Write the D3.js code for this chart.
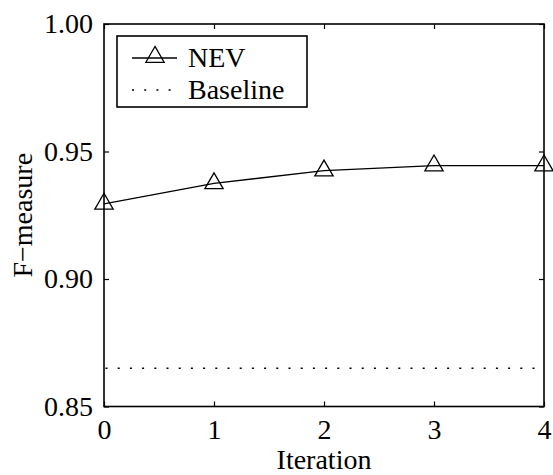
<!DOCTYPE html>
<html>
<head>
<meta charset="utf-8">
<script src="https://cdn.jsdelivr.net/npm/d3@7"></script>
<style>
  body { margin: 0; background: #fff; }
  text { font-family: "Liberation Serif", "Times New Roman", serif; fill: #000; }
</style>
</head>
<body>
<div id="chart"></div>
<script>
// Data
const iterations = [0, 1, 2, 3, 4];
const nevValues = [0.9295, 0.9375, 0.9425, 0.9445, 0.9445];
const baselineValue = 0.865;
const yTicks = [0.85, 0.90, 0.95, 1.00];
const seriesNames = ["NEV", "Baseline"];

const width = 553, height = 475;
const margin = { left: 104, right: 9, top: 24, bottom: 68.5 };

const svg = d3.select("#chart").append("svg")
  .attr("width", width)
  .attr("height", height);

const x = d3.scaleLinear().domain([0, 4]).range([margin.left, width - margin.right]);
const y = d3.scaleLinear().domain([0.85, 1.0]).range([height - margin.bottom, margin.top]);

const fontSize = 28;

// axes with inward ticks on all four sides
const tickLen = 5;
svg.append("g")
  .attr("transform", `translate(0,${y(0.85)})`)
  .call(d3.axisBottom(x).tickValues(iterations).tickSize(-tickLen).tickPadding(13).tickFormat(d3.format("d")))
  .call(g => g.select(".domain").remove())
  .call(g => g.selectAll("text").attr("font-size", fontSize).attr("dy", "0.71em"));
svg.append("g")
  .attr("transform", `translate(0,${y(1.0)})`)
  .call(d3.axisTop(x).tickValues(iterations).tickSize(-tickLen).tickFormat(""))
  .call(g => g.select(".domain").remove());
svg.append("g")
  .attr("transform", `translate(${x(0)},0)`)
  .call(d3.axisLeft(y).tickValues(yTicks).tickSize(-tickLen).tickPadding(11).tickFormat(d3.format(".2f")))
  .call(g => g.select(".domain").remove())
  .call(g => g.selectAll("text").attr("font-size", fontSize));
svg.append("g")
  .attr("transform", `translate(${x(4)},0)`)
  .call(d3.axisRight(y).tickValues(yTicks).tickSize(-tickLen).tickFormat(""))
  .call(g => g.select(".domain").remove());

svg.selectAll(".tick line").attr("stroke", "#000").attr("stroke-width", 1.2);

// frame
svg.append("rect")
  .attr("x", x(0)).attr("y", y(1.0))
  .attr("width", x(4) - x(0)).attr("height", y(0.85) - y(1.0))
  .attr("fill", "none").attr("stroke", "#000").attr("stroke-width", 1.6);

// baseline dotted line
svg.append("line")
  .attr("x1", x(0) + 1.5).attr("x2", x(4))
  .attr("y1", y(baselineValue)).attr("y2", y(baselineValue))
  .attr("stroke", "#000").attr("stroke-width", 1.5)
  .attr("stroke-dasharray", "2,10.2");

// NEV line
const line = d3.line().x((d, i) => x(iterations[i])).y(d => y(d));
svg.append("path")
  .datum(nevValues)
  .attr("d", line)
  .attr("fill", "none").attr("stroke", "#000").attr("stroke-width", 1.3);

const tri = d3.symbol().type(d3.symbolTriangle).size(145);
svg.selectAll(".marker")
  .data(nevValues)
  .enter().append("path")
  .attr("class", "marker")
  .attr("d", tri)
  .attr("transform", (d, i) => `translate(${x(iterations[i])},${y(d)})`)
  .attr("fill", "none").attr("stroke", "#000").attr("stroke-width", 1.3);

// axis labels
svg.append("text")
  .attr("x", (x(0) + x(4)) / 2).attr("y", 469)
  .attr("text-anchor", "middle").attr("font-size", fontSize)
  .text("Iteration");
svg.append("text")
  .attr("transform", `translate(32,${(y(0.85) + y(1.0)) / 2}) rotate(-90)`)
  .attr("text-anchor", "middle").attr("font-size", fontSize)
  .text("F\u2212measure");

// legend
const legend = svg.append("g");
legend.append("rect")
  .attr("x", 117).attr("y", 36).attr("width", 190).attr("height", 71)
  .attr("fill", "#fff").attr("stroke", "#000").attr("stroke-width", 1.6);
legend.append("line")
  .attr("x1", 132).attr("x2", 177).attr("y1", 58).attr("y2", 58)
  .attr("stroke", "#000").attr("stroke-width", 1.3);
legend.append("path")
  .attr("d", tri)
  .attr("transform", "translate(155,57)")
  .attr("fill", "none").attr("stroke", "#000").attr("stroke-width", 1.3);
legend.append("line")
  .attr("x1", 132).attr("x2", 175).attr("y1", 90).attr("y2", 90)
  .attr("stroke", "#000").attr("stroke-width", 1.5)
  .attr("stroke-dasharray", "2,10.2");
legend.selectAll(".ltext")
  .data(seriesNames)
  .enter().append("text")
  .attr("x", 188)
  .attr("y", (d, i) => 67 + i * 32)
  .attr("font-size", fontSize)
  .text(d => d);
</script>
</body>
</html>
